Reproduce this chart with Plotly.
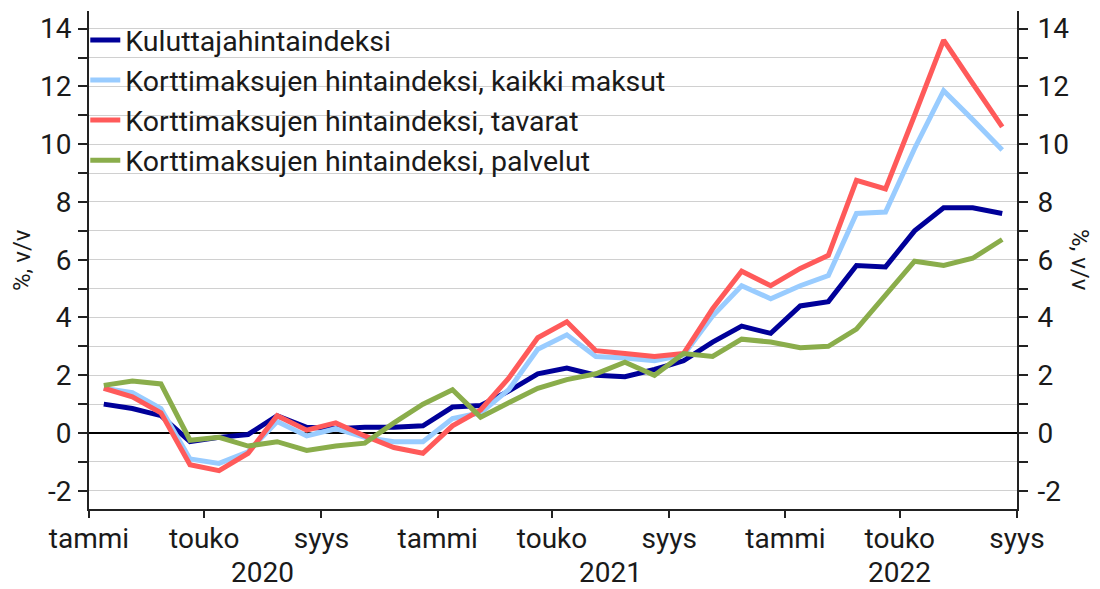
import plotly.graph_objects as go

months = [f"{y}-{m:02d}" for y in (2020, 2021, 2022) for m in range(1, 13)][:32]

kuluttaja = [1.0, 0.85, 0.6, -0.3, -0.15, -0.05, 0.6, 0.2, 0.15, 0.2, 0.2, 0.25,
             0.9, 0.95, 1.45, 2.05, 2.25, 2.0, 1.95, 2.2, 2.5, 3.15, 3.7, 3.45,
             4.4, 4.55, 5.8, 5.75, 7.0, 7.8, 7.8, 7.6]
kaikki = [1.55, 1.4, 0.85, -0.9, -1.05, -0.65, 0.4, -0.1, 0.15, -0.15, -0.3, -0.3,
          0.5, 0.7, 1.5, 2.9, 3.4, 2.65, 2.6, 2.5, 2.7, 4.05, 5.1, 4.65,
          5.1, 5.45, 7.6, 7.65, 9.85, 11.85, 10.85, 9.8]
tavarat = [1.55, 1.25, 0.7, -1.1, -1.3, -0.7, 0.6, 0.1, 0.35, -0.1, -0.5, -0.7,
           0.25, 0.8, 1.9, 3.3, 3.85, 2.85, 2.75, 2.65, 2.75, 4.3, 5.6, 5.1,
           5.7, 6.15, 8.75, 8.45, 11.0, 13.6, 12.1, 10.6]
palvelut = [1.65, 1.8, 1.7, -0.25, -0.15, -0.45, -0.3, -0.6, -0.45, -0.35, 0.35, 1.0,
            1.5, 0.55, 1.05, 1.55, 1.85, 2.05, 2.45, 2.0, 2.75, 2.65, 3.25, 3.15,
            2.95, 3.0, 3.6, 4.75, 5.95, 5.8, 6.05, 6.7]

series_names = ["Kuluttajahintaindeksi",
                "Korttimaksujen hintaindeksi, kaikki maksut",
                "Korttimaksujen hintaindeksi, tavarat",
                "Korttimaksujen hintaindeksi, palvelut"]
series_values = [kuluttaja, kaikki, tavarat, palvelut]
colors = ["#000099", "#99CCFF", "#FF5A5A", "#8AAD4B"]
axes_of_series = ["y", "y", "y", "y2"]

tick_dates = ["2020-01-01", "2020-05-01", "2020-09-01", "2021-01-01", "2021-05-01",
              "2021-09-01", "2022-01-01", "2022-05-01", "2022-09-01"]
tick_labels = ["tammi", "touko", "syys"] * 3
year_labels = ["2020", "2021", "2022"]
year_centers = ["2020-07-01", "2021-07-01", "2022-05-01"]
y_tick_values = [-2, 0, 2, 4, 6, 8, 10, 12, 14]
y_tick_labels = ["-2", "0", "2", "4", "6", "8", "10", "12", "14"]

FONT = "Roboto"
TXT = "#1a1a1a"
yr = [-2.63, 14.61]

fig = go.Figure()
for name, vals, col, ax in zip(series_names, series_values, colors, axes_of_series):
    fig.add_trace(go.Scatter(
        x=months, y=vals, name=name, mode="lines", yaxis=ax,
        line=dict(color=col, width=5),
        xperiod="M1", xperiodalignment="middle",
    ))

axis_common = dict(
    range=yr, tickmode="array", tickvals=y_tick_values, ticktext=y_tick_labels,
    ticks="outside", ticklen=9, tickwidth=1.5,
    tickcolor="#222", showline=True, linecolor="#222", linewidth=2,
    tickfont=dict(size=28, family=FONT, color=TXT),
)

fig.update_layout(
    width=1100, height=589,
    margin=dict(l=89, r=83, t=11, b=80),
    paper_bgcolor="white", plot_bgcolor="white",
    font=dict(family=FONT, color=TXT, size=28),
    showlegend=True,
    legend=dict(x=-0.004, y=0.992, xanchor="left", yanchor="top",
                bgcolor="rgba(0,0,0,0)", font=dict(size=28.5, family=FONT, color=TXT)),
    xaxis=dict(
        type="date", range=["2020-01-01", "2022-09-01"],
        tickmode="array", tickvals=tick_dates, ticktext=tick_labels,
        ticks="outside", ticklen=7, tickwidth=1.5, tickcolor="#222",
        showline=True, linecolor="#222", linewidth=2,
        showgrid=False, zeroline=False, ticklabelstandoff=-4,
        tickfont=dict(size=28, family=FONT, color=TXT),
    ),
    yaxis=dict(
        **axis_common, ticklabelstandoff=1,
        showgrid=True, gridcolor="#d0d0d0", gridwidth=1,
        zeroline=True, zerolinecolor="#000", zerolinewidth=1.5,
        minor=dict(tickmode="linear", dtick=1, tick0=0, ticks="outside", ticklen=9,
                   tickwidth=1.5, tickcolor="#222", showgrid=True,
                   gridcolor="#d0d0d0", gridwidth=1),
    ),
    yaxis2=dict(
        **axis_common, ticklabelstandoff=4,
        overlaying="y", side="right", anchor="x",
        showgrid=False, zeroline=False,
        minor=dict(tickmode="linear", dtick=1, tick0=0, ticks="outside", ticklen=9,
                   tickwidth=1.5, tickcolor="#222", showgrid=False),
    ),
)

for lab, xc in zip(year_labels, year_centers):
    fig.add_annotation(x=xc, y=-0.1285, xref="x", yref="paper", text=lab,
                       showarrow=False, xanchor="center", yanchor="middle",
                       font=dict(size=28, family=FONT, color=TXT))

fig.add_annotation(x=-0.0722, y=0.5, xref="paper", yref="paper", text="%, v/v",
                   textangle=-90, showarrow=False, xanchor="center", yanchor="middle",
                   font=dict(size=24, family=FONT, color=TXT))
fig.add_annotation(x=1.068, y=0.5, xref="paper", yref="paper", text="%, v/v",
                   textangle=90, showarrow=False, xanchor="center", yanchor="middle",
                   font=dict(size=24, family=FONT, color=TXT))

fig.write_html("out.html", config={"displayModeBar": False},
               post_script="document.body.style.margin='0px';")
